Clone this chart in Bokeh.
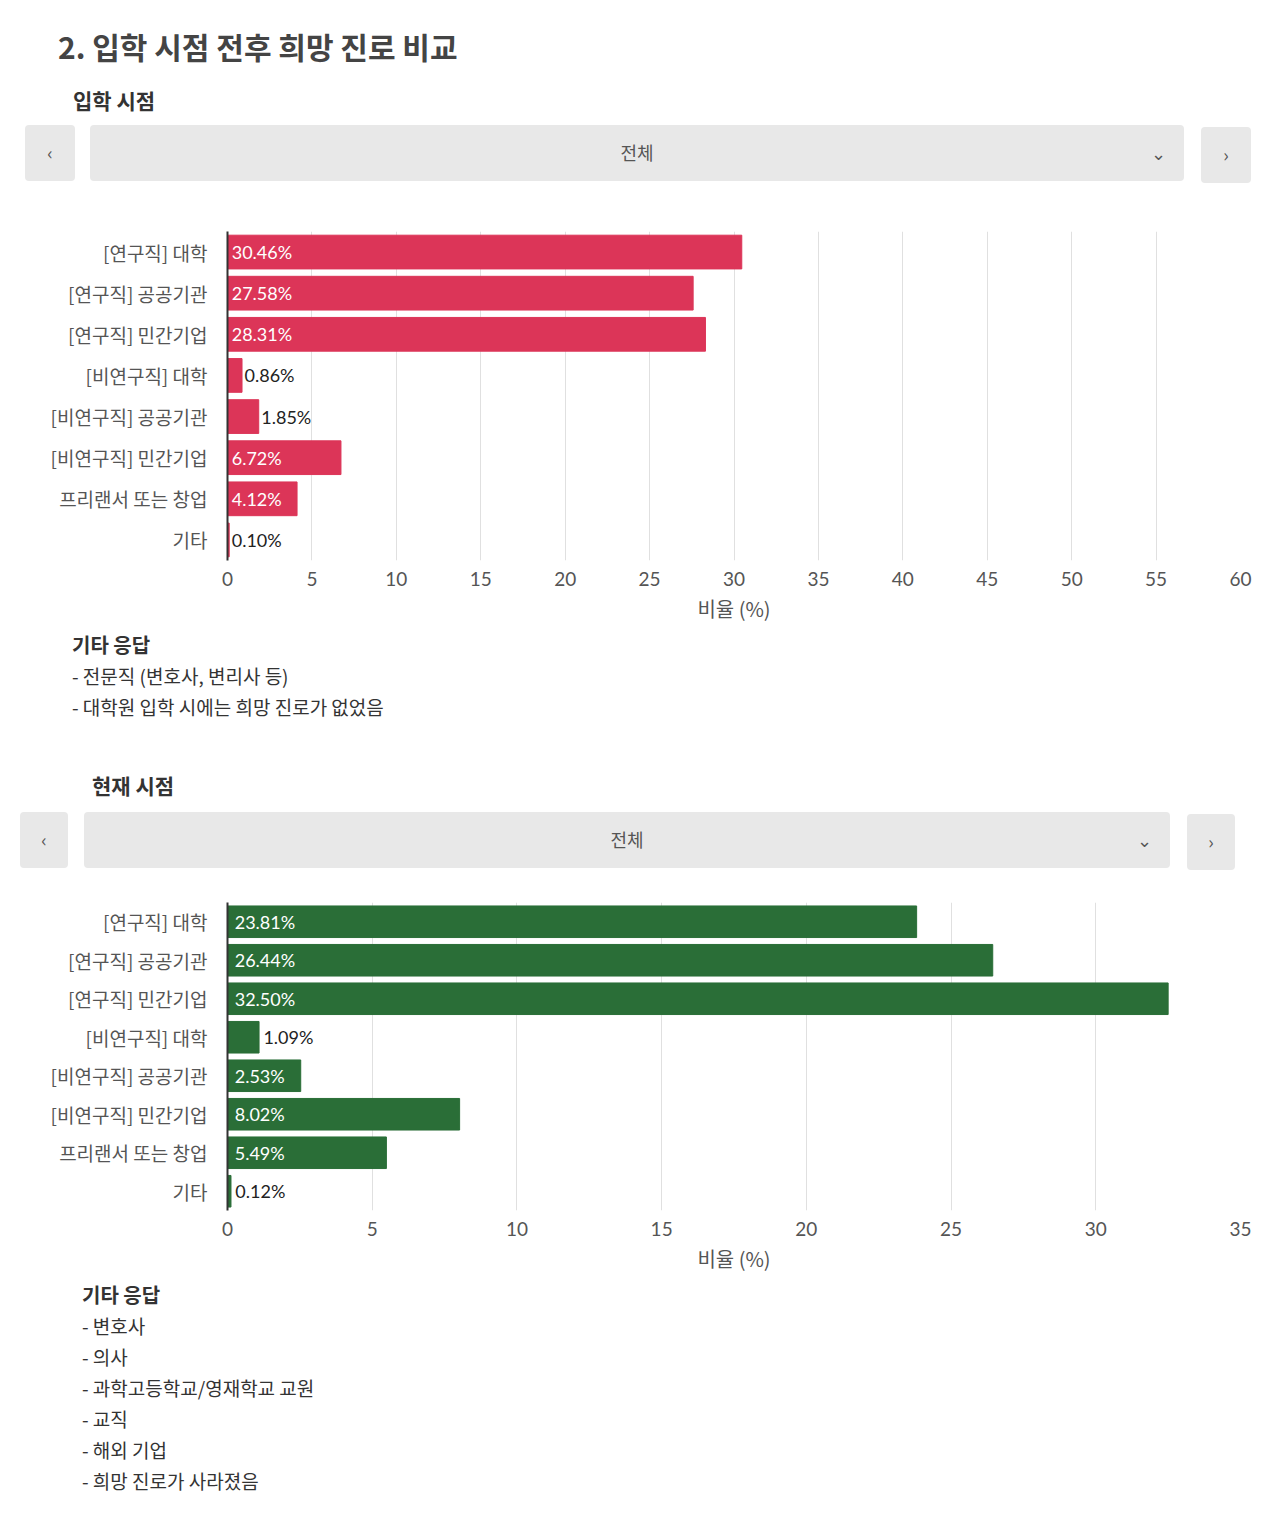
from bokeh.plotting import figure
from bokeh.layouts import column
from bokeh.models import Div, ColumnDataSource, FixedTicker
from bokeh.core.properties import value
from bokeh.embed import file_html
from bokeh.resources import INLINE

categories = ["[연구직] 대학", "[연구직] 공공기관", "[연구직] 민간기업", "[비연구직] 대학",
              "[비연구직] 공공기관", "[비연구직] 민간기업", "프리랜서 또는 창업", "기타"]
before_vals = [30.46, 27.58, 28.31, 0.86, 1.85, 6.72, 4.12, 0.10]
after_vals = [23.81, 26.44, 32.50, 1.09, 2.53, 8.02, 5.49, 0.12]
before_notes = ["- 전문직 (변호사, 변리사 등)", "- 대학원 입학 시에는 희망 진로가 없었음"]
after_notes = ["- 변호사", "- 의사", "- 과학고등학교/영재학교 교원", "- 교직", "- 해외 기업", "- 희망 진로가 사라졌음"]
FONT = "Noto Sans CJK KR"
W = 1268


def div(html, h, left=0):
    return Div(text=html, width=W, height=h,
               styles={"font-family": FONT, "margin-left": f"{left}px"})


def dropdown(h, left, btn_w, bar_l, bar_w, bar_r):
    b = ("background:#e8e8e8;border-radius:4px;height:56px;display:flex;align-items:center;"
         "justify-content:center;font-size:18px;color:#555;position:absolute;top:%dpx;")
    return div(
        f'<div style="position:relative;height:{h}px;width:{W}px">'
        f'<div style="{b % 0}left:{left}px;width:{btn_w}px">&lsaquo;</div>'
        f'<div style="{b % 0}left:{bar_l}px;width:{bar_w}px">전체'
        f'<span style="position:absolute;right:18px">&#8964;</span></div>'
        f'<div style="{b % 2}left:{bar_r}px;width:{btn_w}px">&rsaquo;</div></div>', h)


def chart(vals, xmax, left, right_pad, frame_h, color, h):
    cats = categories[::-1]
    v = vals[::-1]
    inside = [x >= 2.5 for x in v]
    src = ColumnDataSource(dict(
        y=cats, v=v, lab=[f"{x:.2f}%" for x in v],
        tx=[0.25 if i else x + 0.15 for x, i in zip(v, inside)],
        col=["white" if i else "#222" for i in inside]))
    p = figure(y_range=cats, x_range=(0, xmax), width=W, height=h,
               output_backend="svg", toolbar_location=None,
               min_border_left=left, min_border_right=right_pad,
               min_border_top=22, min_border_bottom=h - 22 - frame_h)
    p.hbar(y="y", right="v", height=0.82, source=src, color=color)
    p.text(x="tx", y="y", text="lab", source=src, text_color="col",
           text_baseline="middle", text_font_size="18px", text_font=value("Lato"))
    p.outline_line_color = None
    p.ygrid.grid_line_color = None
    p.xgrid.grid_line_color = "#e0e0e0"
    p.xaxis.ticker = FixedTicker(ticks=list(range(0, xmax + 1, 5)))
    p.xaxis.axis_line_color = None
    p.xaxis.major_tick_line_color = None
    p.xaxis.minor_tick_line_color = None
    p.xaxis.major_label_text_font = "Lato"
    p.xaxis.major_label_text_font_size = "19px"
    p.xaxis.major_label_text_color = "#555"
    p.xaxis.axis_label = "비율 (%)"
    p.xaxis.axis_label_text_font = FONT
    p.xaxis.axis_label_text_font_style = "normal"
    p.xaxis.axis_label_text_font_size = "20px"
    p.xaxis.axis_label_text_color = "#555"
    p.yaxis.axis_line_color = "#333"
    p.yaxis.axis_line_width = 2
    p.yaxis.major_tick_line_color = None
    p.yaxis.minor_tick_line_color = None
    p.yaxis.major_label_text_font = FONT
    p.yaxis.major_label_text_font_size = "19px"
    p.yaxis.major_label_text_color = "#555"
    p.yaxis.major_label_standoff = 14
    return p


def notes(lines, left, h):
    t = "".join(f'<div style="font-size:19px;color:#333;line-height:31px">{l}</div>' for l in lines)
    return div(f'<div style="font-size:20px;font-weight:bold;color:#333;line-height:30px">기타 응답</div>{t}', h, left)


items = [
    div('<div style="font-size:30px;font-weight:bold;color:#444;margin-top:20px">2. 입학 시점 전후 희망 진로 비교</div>', 70, 58),
    div('<div style="font-size:21px;font-weight:bold;color:#333">입학 시점</div>', 30, 73),
    dropdown(79, 25, 50, 90, 1094, 1201),
    chart(before_vals, 60, 227, 10, 356, "#dc3558", 416),
    notes(before_notes, 72, 130),
    div('<div style="font-size:21px;font-weight:bold;color:#333">현재 시점</div>', 32, 92),
    dropdown(63, 20, 48, 84, 1086, 1187),
    chart(after_vals, 35, 215, 28, 337, "#2a6e37", 395),
    notes(after_notes, 82, 220),
]
lay = column(*items, spacing=0)
open("out.html", "w").write(file_html(lay, INLINE))
